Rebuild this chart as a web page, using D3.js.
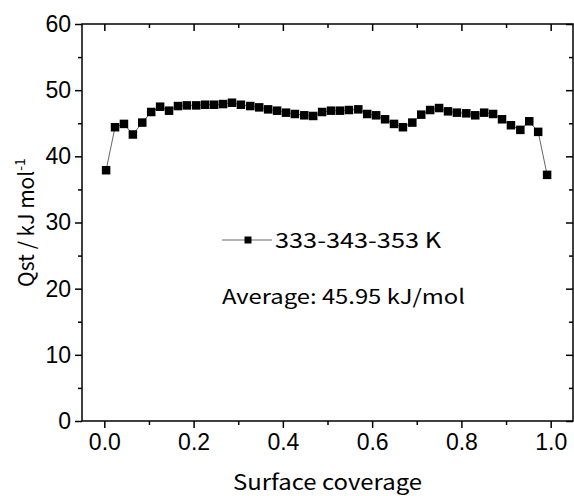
<!DOCTYPE html>
<html><head><meta charset="utf-8">
<script src="https://cdn.jsdelivr.net/npm/d3@7"></script>
<style>body{margin:0;background:#fff}svg{display:block}</style>
</head><body>
<svg id="c" width="574" height="496"></svg>
<script>
const coverage = [0.004,0.024,0.044,0.064,0.085,0.105,0.125,0.145,0.165,0.185,
  0.206,0.226,0.246,0.266,0.286,0.306,0.327,0.347,0.367,0.387,
  0.407,0.427,0.448,0.468,0.488,0.508,0.528,0.548,0.569,0.589,
  0.609,0.629,0.649,0.669,0.690,0.710,0.730,0.750,0.770,0.790,
  0.811,0.831,0.851,0.871,0.891,0.911,0.932,0.952,0.972,0.992];
const qst = [37.9,44.4,44.9,43.3,45.1,46.7,47.5,46.9,47.6,47.7,
  47.7,47.8,47.8,47.9,48.1,47.8,47.6,47.4,47.1,46.9,
  46.6,46.4,46.2,46.1,46.7,46.9,46.9,47.0,47.1,46.4,
  46.2,45.6,44.9,44.4,45.1,46.3,47.0,47.3,46.8,46.6,
  46.5,46.2,46.6,46.4,45.6,44.7,44.0,45.3,43.7,37.2];
const xTicks = [0,0.2,0.4,0.6,0.8,1.0];
const xMinor = [0.1,0.3,0.5,0.7,0.9];
const yTicks = [0,10,20,30,40,50,60];
const yMinor = [5,15,25,35,45,55];
const seriesName = "333-343-353 K";
const noteText = "Average: 45.95 kJ/mol";

const svg = d3.select("#c");
const L=82, R=573, T=24, B=421;
const x = d3.scaleLinear().domain([-0.05,1.05]).range([L,R]);
const y = d3.scaleLinear().domain([0,60]).range([B,T]);
const tickFont = "'Liberation Sans', Arial, sans-serif";
const textFont = "'Noto Sans CJK JP', 'Liberation Sans', sans-serif";

function styleAxis(g){
  g.select(".domain").remove();
  g.selectAll("line").attr("stroke","#000").attr("stroke-width",1.5);
  g.selectAll("text").attr("font-family",tickFont).attr("font-size",23).attr("fill","#000");
}
// bottom axis
svg.append("g").attr("transform",`translate(0,${B})`)
  .call(d3.axisBottom(x).tickValues(xTicks).tickFormat(d3.format(".1f")).tickSizeInner(7).tickSizeOuter(0).tickPadding(6))
  .call(styleAxis);
svg.append("g").attr("transform",`translate(0,${B})`)
  .call(d3.axisBottom(x).tickValues(xMinor).tickFormat("").tickSizeInner(4).tickSizeOuter(0))
  .call(styleAxis);
// top axis (inward)
svg.append("g").attr("transform",`translate(0,${T})`)
  .call(d3.axisTop(x).tickValues(xTicks).tickFormat("").tickSizeInner(-7).tickSizeOuter(0))
  .call(styleAxis);
svg.append("g").attr("transform",`translate(0,${T})`)
  .call(d3.axisTop(x).tickValues(xMinor).tickFormat("").tickSizeInner(-4).tickSizeOuter(0))
  .call(styleAxis);
// left axis
svg.append("g").attr("transform",`translate(${L},0)`)
  .call(d3.axisLeft(y).tickValues(yTicks).tickFormat(d3.format("d")).tickSizeInner(7).tickSizeOuter(0).tickPadding(4))
  .call(styleAxis);
svg.append("g").attr("transform",`translate(${L},0)`)
  .call(d3.axisLeft(y).tickValues(yMinor).tickFormat("").tickSizeInner(4).tickSizeOuter(0))
  .call(styleAxis);
// right axis (inward)
svg.append("g").attr("transform",`translate(${R},0)`)
  .call(d3.axisRight(y).tickValues(yTicks).tickFormat("").tickSizeInner(-7).tickSizeOuter(0))
  .call(styleAxis);
svg.append("g").attr("transform",`translate(${R},0)`)
  .call(d3.axisRight(y).tickValues(yMinor).tickFormat("").tickSizeInner(-4).tickSizeOuter(0))
  .call(styleAxis);
// frame
svg.append("rect").attr("x",L).attr("y",T).attr("width",R-L).attr("height",B-T)
  .attr("fill","none").attr("stroke","#000").attr("stroke-width",1.5);

const data = coverage.map((c,i)=>({c, q:qst[i]}));
svg.append("path").datum(data)
  .attr("d", d3.line().x(d=>x(d.c)).y(d=>y(d.q)))
  .attr("fill","none").attr("stroke","#666").attr("stroke-width",1);
const ms = 8.5;
svg.selectAll("rect.pt").data(data).enter().append("rect").attr("class","pt")
  .attr("x",d=>x(d.c)-ms/2).attr("y",d=>y(d.q)-ms/2).attr("width",ms).attr("height",ms)
  .attr("fill","#000");

// legend
const ly = 240;
svg.append("line").attr("x1",222).attr("x2",272).attr("y1",ly).attr("y2",ly)
  .attr("stroke","#666").attr("stroke-width",1);
svg.append("rect").attr("x",248-3.5).attr("y",ly-3.5).attr("width",7).attr("height",7).attr("fill","#000");
svg.append("text").attr("x",275).attr("y",ly+8).attr("font-family",textFont).attr("font-size",21)
  .attr("textLength",166).attr("lengthAdjust","spacingAndGlyphs")
  .attr("fill","#000").text(seriesName);
svg.append("text").attr("x",222).attr("y",304).attr("font-family",textFont).attr("font-size",20)
  .attr("textLength",243).attr("lengthAdjust","spacingAndGlyphs")
  .attr("fill","#000").text(noteText);

// axis titles
svg.append("text").attr("x",(L+R)/2).attr("y",490).attr("text-anchor","middle")
  .attr("font-family",textFont).attr("font-size",21).attr("fill","#000")
  .attr("textLength",189).attr("lengthAdjust","spacingAndGlyphs").text("Surface coverage");
const yt = svg.append("text").attr("transform",`translate(34,${(T+B)/2}) rotate(-90)`)
  .attr("text-anchor","middle").attr("font-family",textFont).attr("font-size",21).attr("fill","#000");
yt.append("tspan").text("Qst / kJ mol");
yt.append("tspan").attr("font-size",14).attr("dy",-9).text("-1");
</script>
</body></html>
